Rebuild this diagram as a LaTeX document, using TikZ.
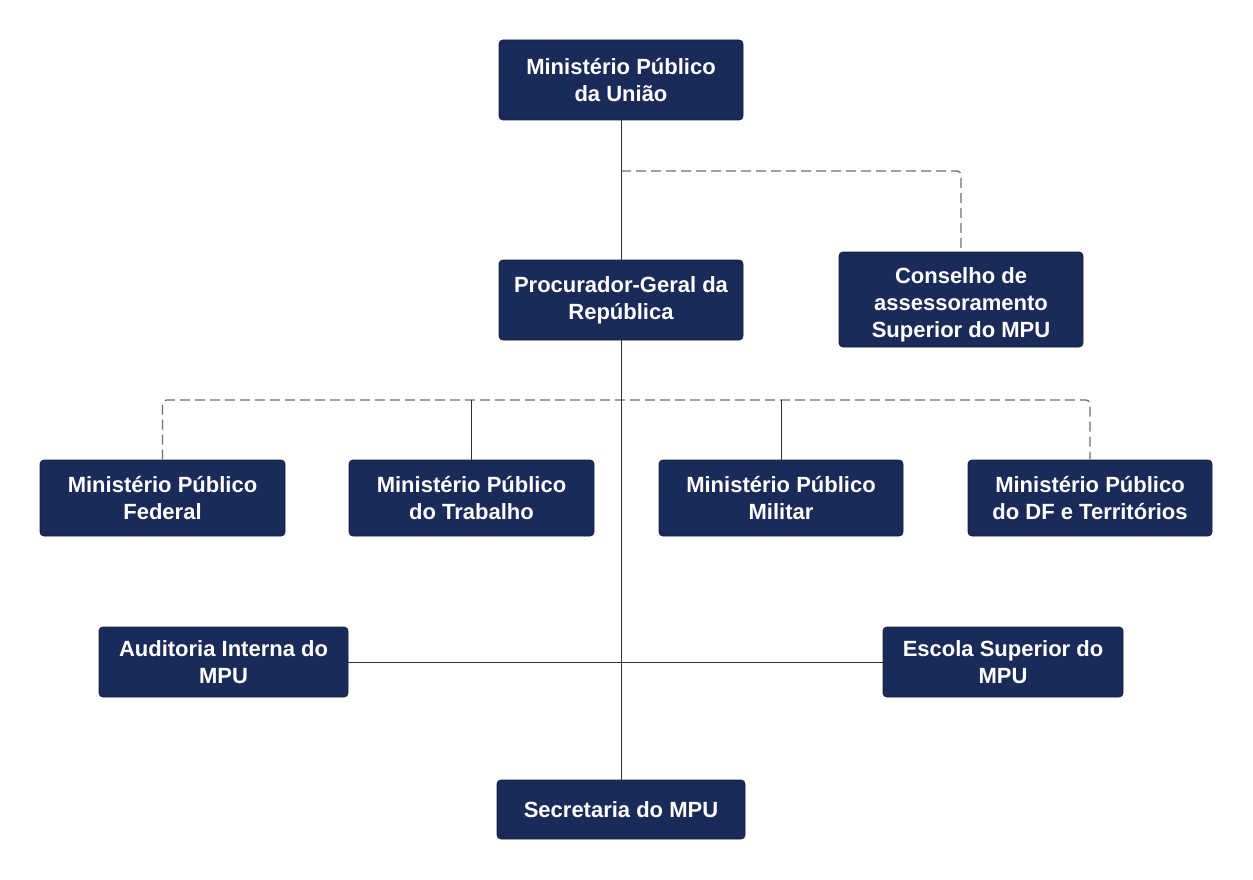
\documentclass[tikz,border=0pt]{standalone}
\usepackage{fontspec}
\setmainfont{Liberation Sans}
\definecolor{navy}{HTML}{1B2B59}
\definecolor{navyedge}{HTML}{121D3D}
\definecolor{solidline}{HTML}{333333}
\definecolor{dashline}{HTML}{6E6E72}
\begin{document}
\begin{tikzpicture}[x=1pt,y=-1pt,
  orgbox/.style={rectangle, rounded corners=4pt, fill=navy, draw=navyedge, line width=0.8pt,
    text=white, font=\fontsize{22}{27}\selectfont\bfseries, align=center, inner sep=0pt},
  conn/.style={draw=solidline, line width=1pt},
  dconn/.style={draw=dashline, line width=1.3pt, dash pattern=on 10pt off 5pt, rounded corners=4pt}]
\useasboundingbox[fill=white] (0,0) rectangle (1253,880);

\node[orgbox, minimum width=244pt, minimum height=80pt] (mpu) at (621,80) {Ministério Público\\da União};
\node[orgbox, minimum width=244pt, minimum height=80pt] (pgr) at (621,300) {Procurador-Geral da\\República};
\node[orgbox, minimum width=244pt, minimum height=95pt] (cons) at (961,299.5) {\rule{0pt}{26pt}Conselho de\\assessoramento\\Superior do MPU};

\node[orgbox, minimum width=245pt, minimum height=76pt] (mpf) at (162.5,498) {Ministério Público\\Federal};
\node[orgbox, minimum width=245pt, minimum height=76pt] (mpt) at (471.5,498) {Ministério Público\\do Trabalho};
\node[orgbox, minimum width=244pt, minimum height=76pt] (mpm) at (781,498) {Ministério Público\\Militar};
\node[orgbox, minimum width=244pt, minimum height=76pt] (mpdft) at (1090,498) {Ministério Público\\do DF e Territórios};

\node[orgbox, minimum width=249pt, minimum height=70pt] (aud) at (223.5,662) {Auditoria Interna do\\MPU};
\node[orgbox, minimum width=240pt, minimum height=70pt] (esc) at (1003,662) {Escola Superior do\\MPU};

\node[orgbox, minimum width=248pt, minimum height=59pt] (sec) at (621,809.5) {Secretaria do MPU};

\coordinate (cbranch) at (621,171);
\coordinate (bus) at (621,400);

% dashed connectors
\draw[dconn] (cbranch) -| (cons.north);
\draw[dconn] (mpf.north) |- (bus) -| (mpdft.north);

% solid connectors
\draw[conn] (mpu.south) -- (pgr.north);
\draw[conn] (pgr.south) -- (sec.north);
\draw[conn] (mpt.north) -- (mpt.north |- bus);
\draw[conn] (mpm.north) -- (mpm.north |- bus);
\draw[conn] (aud.east) -- (esc.west);
\end{tikzpicture}
\end{document}
